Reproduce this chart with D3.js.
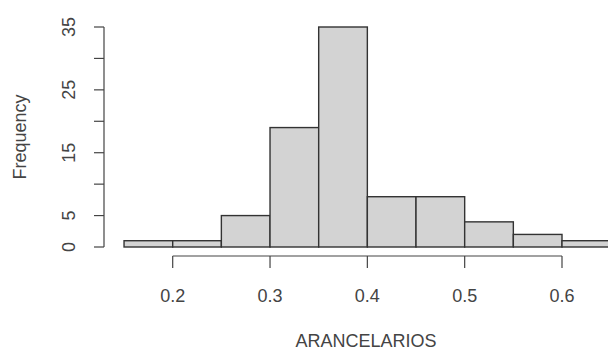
<!DOCTYPE html>
<html>
<head>
<meta charset="utf-8">
<script src="https://cdn.jsdelivr.net/npm/d3@7"></script>
<style>
  body { margin: 0; background: #fff; }
  text { font-family: "Liberation Sans", Arial, sans-serif; fill: #444; }
</style>
</head>
<body>
<div id="chart"></div>
<script>
// histogram bins (left edges) and counts
const binStarts = [0.15, 0.20, 0.25, 0.30, 0.35, 0.40, 0.45, 0.50, 0.55, 0.60]
const binWidth = 0.05
const counts = [1, 1, 5, 19, 35, 8, 8, 4, 2, 1]
const xTicks = [0.2, 0.3, 0.4, 0.5, 0.6]
const yTicks = [0, 5, 10, 15, 20, 25, 30, 35]
const yLabels = [0, 5, 15, 25, 35]

const W = 608, H = 352
const FONT = 18

const svg = d3.select('#chart').append('svg')
  .attr('width', W).attr('height', H)

// 0.2 -> 172.7, 0.6 -> 562
const x = d3.scaleLinear().domain([0.2, 0.6]).range([172.7, 562])
const y = d3.scaleLinear().domain([0, 35]).range([247, 27])

// bars
svg.append('g').selectAll('rect')
  .data(binStarts)
  .enter().append('rect')
  .attr('x', (d) => x(d))
  .attr('width', x(binWidth) - x(0))
  .attr('y', (d, i) => y(counts[i]))
  .attr('height', (d, i) => y(0) - y(counts[i]))
  .attr('fill', '#d3d3d3')
  .attr('stroke', '#333')
  .attr('stroke-width', 1.4)

// x axis (R style, detached below the plot)
const gx = svg.append('g').attr('transform', 'translate(0,256)')
gx.append('line')
  .attr('x1', x(0.2)).attr('x2', x(0.6))
  .attr('stroke', '#444').attr('stroke-width', 1.2)
gx.selectAll('line.tick').data(xTicks).enter().append('line')
  .attr('class', 'tick')
  .attr('x1', (d) => x(d)).attr('x2', (d) => x(d))
  .attr('y1', 0).attr('y2', 12)
  .attr('stroke', '#444').attr('stroke-width', 1.2)
gx.selectAll('text').data(xTicks).enter().append('text')
  .attr('x', (d) => x(d)).attr('y', 46)
  .attr('text-anchor', 'middle')
  .attr('font-size', FONT)
  .text((d) => d3.format('.1f')(d))

// y axis
const gy = svg.append('g').attr('transform', 'translate(104,0)')
gy.append('line')
  .attr('y1', y(0)).attr('y2', y(35))
  .attr('stroke', '#444').attr('stroke-width', 1.2)
gy.selectAll('line.tick').data(yTicks).enter().append('line')
  .attr('class', 'tick')
  .attr('x1', -10).attr('x2', 0)
  .attr('y1', (d) => y(d)).attr('y2', (d) => y(d))
  .attr('stroke', '#444').attr('stroke-width', 1.2)
gy.selectAll('text').data(yLabels).enter().append('text')
  .attr('transform', (d) => `translate(-35,${y(d)}) rotate(-90)`)
  .attr('text-anchor', 'middle')
  .attr('dy', '0.35em')
  .attr('font-size', FONT)
  .text((d) => d)

// axis titles
svg.append('text')
  .attr('x', 366).attr('y', 347)
  .attr('text-anchor', 'middle')
  .attr('font-size', FONT)
  .text('ARANCELARIOS')

svg.append('text')
  .attr('transform', 'translate(20,137) rotate(-90)')
  .attr('text-anchor', 'middle')
  .attr('dy', '0.35em')
  .attr('font-size', FONT)
  .text('Frequency')
</script>
</body>
</html>
